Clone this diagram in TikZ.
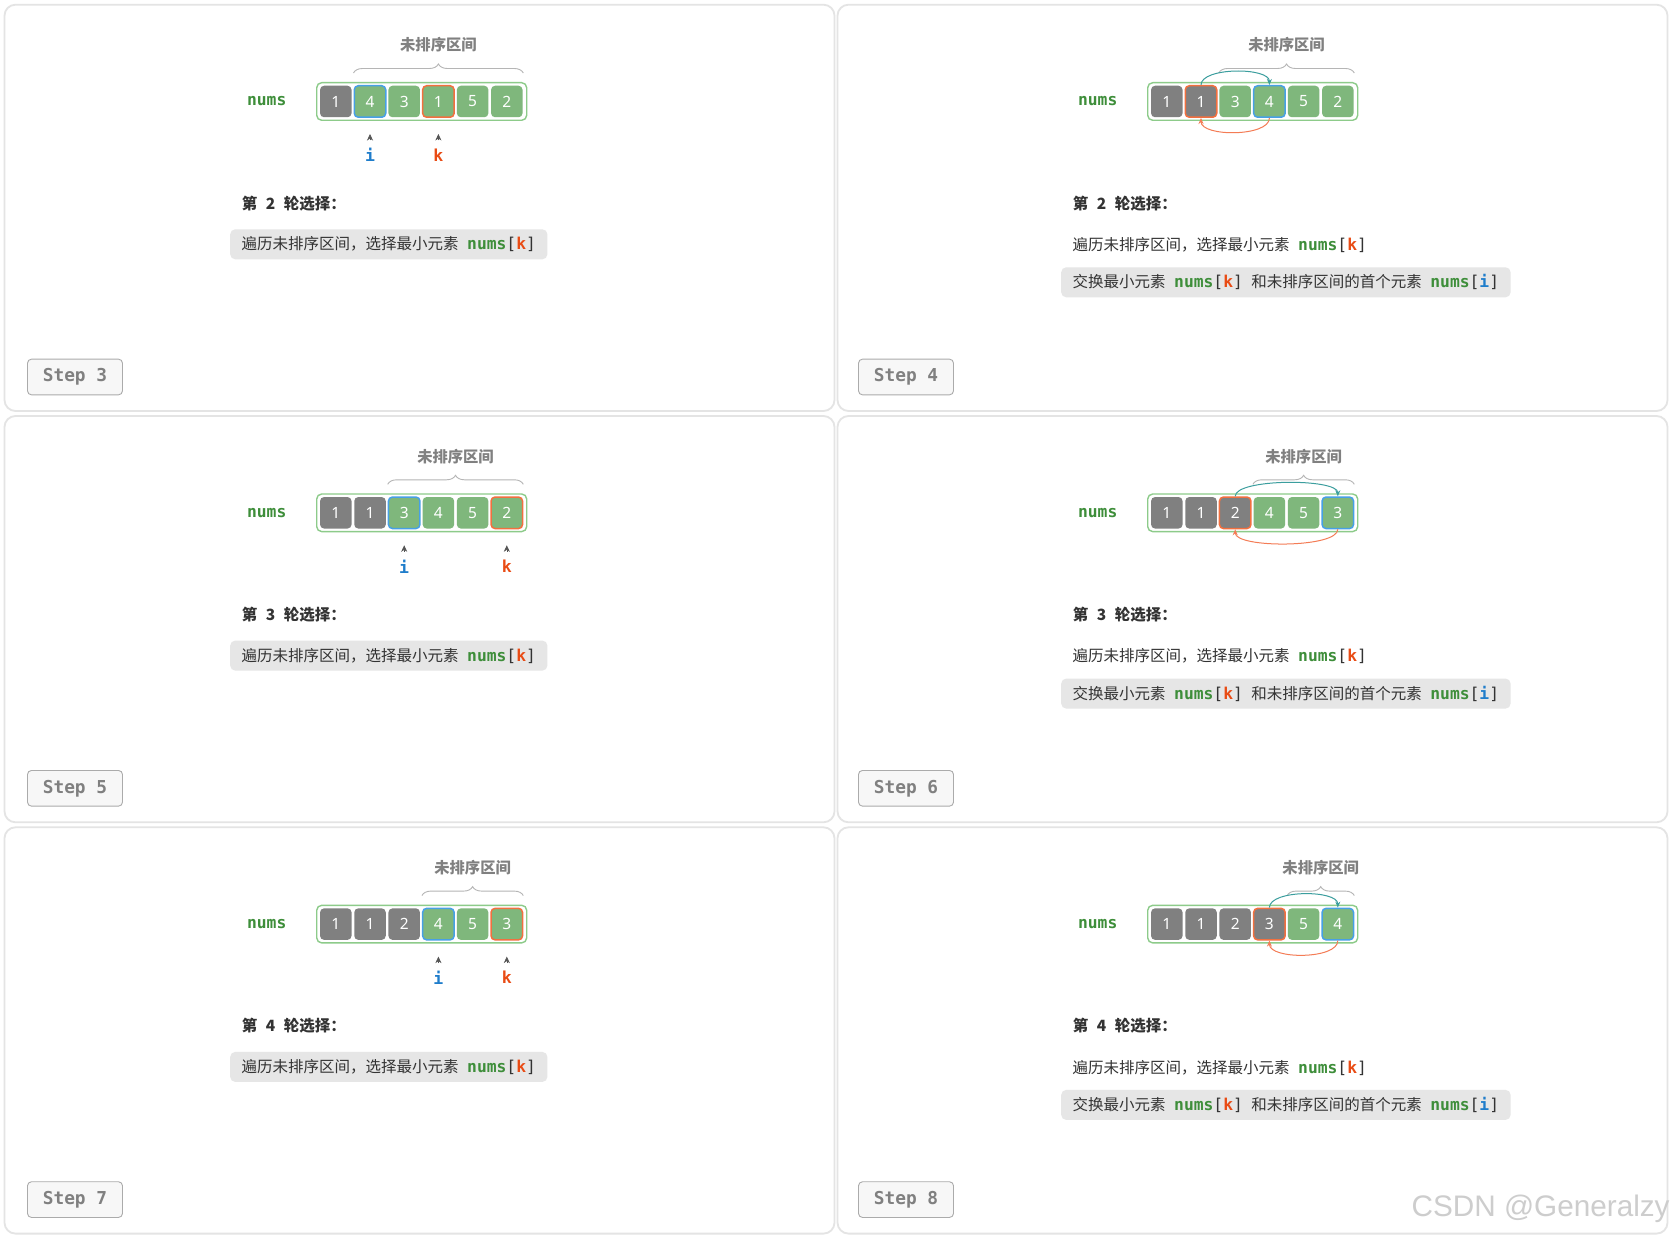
\documentclass[tikz,border=0pt]{standalone}
\usepackage{fontspec}
\setmainfont{Noto Sans}
\newfontfamily\cjk{Noto Sans CJK SC}
\newfontfamily\mono{DejaVu Sans Mono}
\newfontfamily\wmfont{Liberation Sans}
\usetikzlibrary{decorations.pathreplacing,arrows.meta,calc}

\definecolor{cgray}{HTML}{808080}
\definecolor{cgreen}{HTML}{7FB77C}
\definecolor{arrgreen}{HTML}{8DCB8A}
\definecolor{blueb}{HTML}{47A0E6}
\definecolor{orangeb}{HTML}{F2703F}
\definecolor{numsgreen}{HTML}{3E8E3A}
\definecolor{iblue}{HTML}{1F7DCB}
\definecolor{kred}{HTML}{E94B14}
\definecolor{tealc}{HTML}{3B9E9E}
\definecolor{orangec}{HTML}{F47C55}
\definecolor{textdark}{HTML}{333333}
\definecolor{boxgray}{HTML}{E6E6E6}
\definecolor{labgray}{HTML}{808080}
\definecolor{bracegray}{HTML}{B5B5B5}
\definecolor{ptrgray}{HTML}{555555}
\definecolor{panelborder}{HTML}{E4E4E4}
\definecolor{stepfill}{HTML}{F7F7F7}
\definecolor{stepborder}{HTML}{ABABAB}
\definecolor{steptext}{HTML}{808080}
\definecolor{wmgray}{HTML}{CDCDCD}

\newcommand\fs[1]{\fontsize{#1}{#1}\selectfont}
\newcommand\gap{\hspace{8.5pt}}
\newcommand\mfs{\fs{16.3}}
\newcommand\numsk{{\mono\mfs\bfseries\color{numsgreen}nums}{\mono\mfs[}{\mono\mfs\bfseries\color{kred}k}{\mono\mfs]}}
\newcommand\numsi{{\mono\mfs\bfseries\color{numsgreen}nums}{\mono\mfs[}{\mono\mfs\bfseries\color{iblue}i}{\mono\mfs]}}

\tikzset{
  cellbox/.style={rounded corners=4pt, minimum width=31.5pt, minimum height=31.5pt,
    inner sep=0pt, text=white, font=\fs{15.5}, line width=1.5pt},
  outerbox/.style={draw=arrgreen, line width=1.4pt, rounded corners=5pt,
    minimum width=210pt, minimum height=37.6pt, inner sep=0pt, fill=white},
  numslabel/.style={font=\mono\bfseries\fs{16.3}, text=numsgreen},
  rangelabel/.style={font=\cjk\bfseries\fs{15.3}, text=labgray},
  rangebrace/.style={draw=bracegray, line width=0.9pt, decorate,
    decoration={brace, amplitude=9pt}},
  ptrtip/.style={-{Stealth[length=6.5pt,width=6pt,inset=2pt]}, draw=ptrgray, line width=0.6pt},
  ilabel/.style={font=\mono\bfseries\fs{16.5}, text=iblue},
  klabel/.style={font=\mono\bfseries\fs{16.5}, text=kred},
  roundtitle/.style={anchor=west, font=\cjk\bfseries\fs{15.5}, text=textdark, inner sep=0pt},
  descbox/.style={anchor=west, font=\cjk\fs{15.5}, text=textdark, inner xsep=11.5pt,
    inner ysep=0pt, minimum height=30pt, rounded corners=5pt},
  hl/.style={fill=boxgray},
  stepbox/.style={draw=stepborder, fill=stepfill, line width=0.9pt, rounded corners=4pt,
    minimum width=95pt, minimum height=35.7pt, font=\mono\bfseries\fs{17.8},
    text=steptext, inner sep=0pt},
  panel/.style={draw=panelborder, line width=1.8pt, rounded corners=11pt},
  swapT/.style={draw=tealc, line width=1pt, -{Stealth[length=6pt,width=5pt]}},
  swapO/.style={draw=orangec, line width=1pt, -{Stealth[length=6pt,width=5pt]}},
}

% prefix, ox, oy, cell specs
\newcommand\numsrow[4]{%
  \node[numslabel] (#1nums) at ({#2+266.7},{#3+101.5}) {nums};
  \node[outerbox] (#1arr) at ({#2+421.7},{#3+101.5}) {};
  \foreach \cv/\cf/\cb [count=\j] in {#4} {
    \node[cellbox, fill=\cf, draw=\cb] (#1c\j) at ({#2+335.8+34.2*(\j-1)},{#3+101.5}) {\cv};
  }
}
% prefix, first unsorted cell
\newcommand\unsorted[2]{%
  \path ($(#1c#2.west)+(0,-28.5)$) coordinate (#1bl);
  \path ($(#1c6.east)+(0,-28.5)$) coordinate (#1br);
  \draw[rangebrace] (#1bl) -- (#1br);
  \node[rangelabel] (#1lab) at ($(#1bl)!0.5!(#1br)+(0,-28)$) {未排序区间};
}
% prefix, i cell, k cell
\newcommand\pointers[3]{%
  \node[ilabel] (#1i) at ($(#1c#2)+(0,53.5)$) {i};
  \node[klabel] (#1k) at ($(#1c#3)+(0,53.5)$) {k};
  \draw[ptrtip] ($(#1c#2)+(0,39)$) -- ($(#1c#2)+(0,32.5)$);
  \draw[ptrtip] ($(#1c#3)+(0,39)$) -- ($(#1c#3)+(0,32.5)$);
}
% prefix, a cell, b cell
\newcommand\swaparrows[3]{%
  \draw[swapT] (#1c#2.north) .. controls +(0,-18) and +(0,-18) .. (#1c#3.north);
  \draw[swapO] (#1c#3.south) .. controls +(0,19) and +(0,19) .. (#1c#2.south);
}
% left panel texts: prefix, ox, oy, round number, step label
\newcommand\lefttexts[5]{%
  \node[roundtitle] (#1t) at ({#2+241.7},{#3+203.3}) {第{\gap}#4{\gap}轮选择：};
  \node[descbox, hl] (#1d) at ({#2+230},{#3+244.3}) {遍历未排序区间，选择最小元素{\gap}\numsk};
  \node[stepbox] (#1s) at ({#2+75},{#3+377}) {#5};
}
\newcommand\righttexts[5]{%
  \node[roundtitle] (#1t) at ({#2+241.7},{#3+203.3}) {第{\gap}#4{\gap}轮选择：};
  \node[descbox] (#1d) at ({#2+230},{#3+245}) {遍历未排序区间，选择最小元素{\gap}\numsk};
  \node[descbox, hl] (#1e) at ({#2+230},{#3+282.3}) {交换最小元素{\gap}\numsk{\gap}和未排序区间的首个元素{\gap}\numsi};
  \node[stepbox] (#1s) at ({#2+75},{#3+377}) {#5};
}

\begin{document}
\begin{tikzpicture}[x=1pt,y=-1pt]
\fill[white] (0,0) rectangle (1675,1238);
\useasboundingbox (0,0) rectangle (1675,1238);

\foreach \c in {0,1} {
  \foreach \r in {0,1,2} {
    \draw[panel] ({4.5+833*\c},{4.7+411.3*\r}) rectangle ++(830,406.3);
  }
}

% Step 3
\numsrow{sa}{0}{0}{1/cgray/none, 4/cgreen/blueb, 3/cgreen/none, 1/cgreen/orangeb, 5/cgreen/none, 2/cgreen/none}
\unsorted{sa}{2}
\pointers{sa}{2}{4}
\lefttexts{sa}{0}{0}{2}{Step 3}

% Step 4
\numsrow{sb}{831}{0}{1/cgray/none, 1/cgray/orangeb, 3/cgreen/none, 4/cgreen/blueb, 5/cgreen/none, 2/cgreen/none}
\unsorted{sb}{3}
\swaparrows{sb}{2}{4}
\righttexts{sb}{831}{0}{2}{Step 4}

% Step 5
\numsrow{sc}{0}{411.3}{1/cgray/none, 1/cgray/none, 3/cgreen/blueb, 4/cgreen/none, 5/cgreen/none, 2/cgreen/orangeb}
\unsorted{sc}{3}
\pointers{sc}{3}{6}
\lefttexts{sc}{0}{411.3}{3}{Step 5}

% Step 6
\numsrow{sd}{831}{411.3}{1/cgray/none, 1/cgray/none, 2/cgray/orangeb, 4/cgreen/none, 5/cgreen/none, 3/cgreen/blueb}
\unsorted{sd}{4}
\swaparrows{sd}{3}{6}
\righttexts{sd}{831}{411.3}{3}{Step 6}

% Step 7
\numsrow{se}{0}{822.6}{1/cgray/none, 1/cgray/none, 2/cgray/none, 4/cgreen/blueb, 5/cgreen/none, 3/cgreen/orangeb}
\unsorted{se}{4}
\pointers{se}{4}{6}
\lefttexts{se}{0}{822.6}{4}{Step 7}

% Step 8
\numsrow{sf}{831}{822.6}{1/cgray/none, 1/cgray/none, 2/cgray/none, 3/cgray/orangeb, 5/cgreen/none, 4/cgreen/blueb}
\unsorted{sf}{5}
\swaparrows{sf}{4}{6}
\righttexts{sf}{831}{822.6}{4}{Step 8}

\node[anchor=base west, font=\wmfont\fs{29.7}, text=wmgray, inner sep=0pt] (wm) at (1411.5,1216) {CSDN @Generalzy};
\end{tikzpicture}
\end{document}
